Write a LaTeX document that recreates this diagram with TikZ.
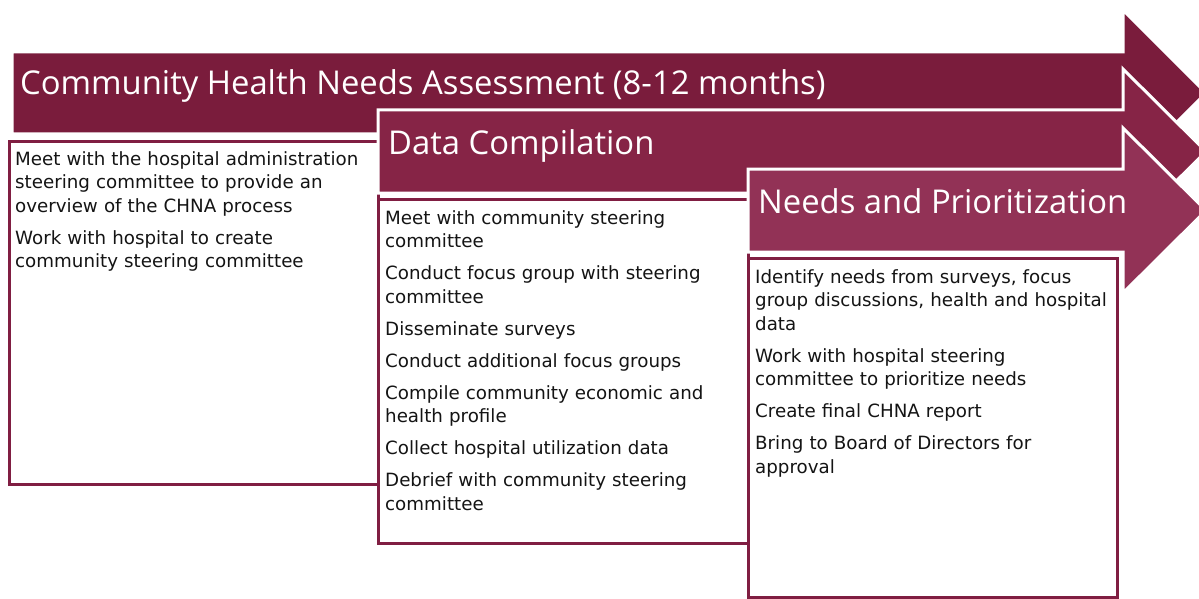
\documentclass[tikz,border=0pt]{standalone}
\usepackage{fontspec}
\newfontfamily\titlefont{Open Sans}
\newfontfamily\bodyfont{DejaVu Sans}
\definecolor{arrowA}{RGB}{122,28,60}
\definecolor{arrowB}{RGB}{134,36,70}
\definecolor{arrowC}{RGB}{146,50,86}
\definecolor{boxline}{RGB}{128,30,66}
\definecolor{bodytext}{RGB}{20,20,20}
\tikzset{
  phasearrow/.style={draw=white, line width=3pt, line join=miter},
  itembox/.style={draw=boxline, line width=3pt, fill=white},
  phasetitle/.style={anchor=base west, inner sep=0pt, text=white,
    font={\titlefont\fontsize{32.8}{36}\selectfont}},
  itemtext/.style={anchor=base west, inner sep=0pt, text=bodytext, align=left,
    text width=370pt,
    font={\bodyfont\fontsize{18.25}{23.5}\selectfont\setlength{\parskip}{8.5pt}}},
}
\begin{document}
\begin{tikzpicture}[x=1pt,y=-1pt]
\useasboundingbox (0,0) rectangle (1199,599);
\fill[white] (0,0) rectangle (1199,599);
% arrow 1
\path[phasearrow, fill=arrowA] (12,52) -- (1123,52) -- (1123,10) -- (1206,93) -- (1123,176) -- (1123,134) -- (12,134) -- cycle;
\node[phasetitle] (t1) at (20,95) {Community Health Needs Assessment (8-12 months)};
\path[itembox] (9,142) rectangle (378,484);
\node[itemtext] (b1) at (15,165) {Meet with the hospital administration\\steering committee to provide an\\overview of the CHNA process\par
Work with hospital to create\\community steering committee};
% arrow 2
\path[phasearrow, fill=arrowB] (378,110) -- (1123,110) -- (1123,69) -- (1206,151.5) -- (1123,234) -- (1123,193) -- (378,193) -- cycle;
\node[phasetitle] (t2) at (388,154) {Data Compilation};
\path[itembox] (378,199) rectangle (748,543);
\node[itemtext] (b2) at (385,224) {Meet with community steering\\committee\par
Conduct focus group with steering\\committee\par
Disseminate surveys\par
Conduct additional focus groups\par
Compile community economic and\\health profile\par
Collect hospital utilization data\par
Debrief with community steering\\committee};
% arrow 3
\path[phasearrow, fill=arrowC] (748,169) -- (1123,169) -- (1123,128) -- (1206,210.5) -- (1123,293) -- (1123,252) -- (748,252) -- cycle;
\node[phasetitle] (t3) at (758,213) {Needs and Prioritization};
\path[itembox] (748,258) rectangle (1117,597);
\node[itemtext] (b3) at (755,283) {Identify needs from surveys, focus\\group discussions, health and hospital\\data\par
Work with hospital steering\\committee to prioritize needs\par
Create final CHNA report\par
Bring to Board of Directors for\\approval};
\end{tikzpicture}
\end{document}
